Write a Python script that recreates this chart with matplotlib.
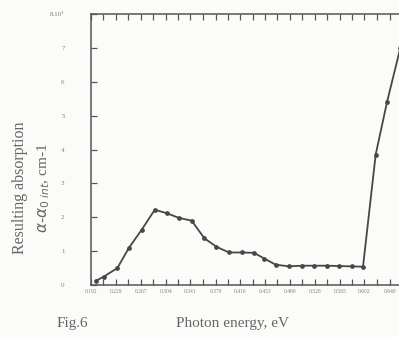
import matplotlib
matplotlib.use("Agg")
import matplotlib.pyplot as plt
from matplotlib.ticker import FixedLocator

# Data
energy = [0.199, 0.2115, 0.2315, 0.249, 0.268, 0.2876, 0.3056, 0.324, 0.343,
          0.362, 0.380, 0.399, 0.418, 0.4365, 0.452, 0.469, 0.489, 0.508,
          0.5265, 0.5455, 0.564, 0.583, 0.600, 0.619, 0.636, 0.656]
absorption = [0.12, 0.25, 0.50, 1.10, 1.63, 2.22, 2.12, 1.98, 1.90,
              1.38, 1.13, 0.96, 0.96, 0.95, 0.78, 0.60, 0.55, 0.57,
              0.57, 0.57, 0.56, 0.55, 0.54, 3.85, 5.40, 7.00]

xtick_values = [0.192, 0.229, 0.267, 0.304, 0.341, 0.379, 0.416, 0.453,
                0.490, 0.528, 0.565, 0.602, 0.640]
xtick_labels = ["0.192", "0.229", "0.267", "0.304", "0.341", "0.379", "0.416",
                "0.453", "0.490", "0.528", "0.565", "0.602", "0.640"]
xminor_values = [0.2105, 0.248, 0.2855, 0.3225, 0.36, 0.3975, 0.4345, 0.4715,
                 0.509, 0.5465, 0.5835, 0.621, 0.659]
ytick_values = [0, 1, 2, 3, 4, 5, 6, 7, 8]
ytick_labels = ["0", "1", "2", "3", "4", "5", "6", "7", "8.10³"]

W, H = 399, 337
fig = plt.figure(figsize=(W / 100, H / 100), dpi=100)
fig.patch.set_facecolor("#fbfbf9")
ax = fig.add_axes([91 / W, (H - 285) / H, (W - 91) / W, (285 - 14) / H])
ax.set_facecolor("#fbfbf9")

line_col = "#474747"
text_col = "#666666"

ax.plot(energy, absorption, color=line_col, lw=1.3, marker="o", ms=2.4,
        mfc=line_col, mec=line_col, clip_on=True)

ax.set_xlim(0.192, 0.192 + (W - 91) / 666.7)
ax.set_ylim(0, 8)

ax.spines["right"].set_visible(False)
for s in ["left", "top", "bottom"]:
    ax.spines[s].set_color("#555555")
    ax.spines[s].set_linewidth(1.1)

ax.xaxis.set_major_locator(FixedLocator(xtick_values))
ax.xaxis.set_minor_locator(FixedLocator(xminor_values))
ax.set_xticklabels(xtick_labels, fontsize=4.0, color="#808080",
                   family="Liberation Serif")
ax.tick_params(axis="x", which="both", direction="in", top=True, bottom=True,
               length=4, width=0.9, color="#555555", pad=3)

ax.set_yticks(ytick_values)
ax.set_yticklabels(ytick_labels, fontsize=5, color="#808080",
                   family="Liberation Serif")
ax.tick_params(axis="y", which="both", direction="in", left=True, right=False,
               length=4, width=0.9, color="#555555", pad=19)

fig.text(20 / W, 1 - 188 / H, "Resulting absorption", rotation=90,
         ha="center", va="center", fontsize=11.5, color=text_col,
         family="Liberation Serif")
fig.text(44 / W, 1 - 188 / H, r"$\alpha$-$\alpha_{0\ int}$, cm-1", rotation=90,
         ha="center", va="center", fontsize=11, color=text_col,
         family="Liberation Serif")
fig.text(57 / W, 1 - 323 / H, "Fig.6", ha="left", va="center", fontsize=11,
         color=text_col, family="Liberation Serif")
fig.text(232 / W, 1 - 323 / H, "Photon energy, eV", ha="center", va="center",
         fontsize=11, color=text_col, family="Liberation Serif")

fig.savefig("out.png", dpi=100, facecolor=fig.get_facecolor())
